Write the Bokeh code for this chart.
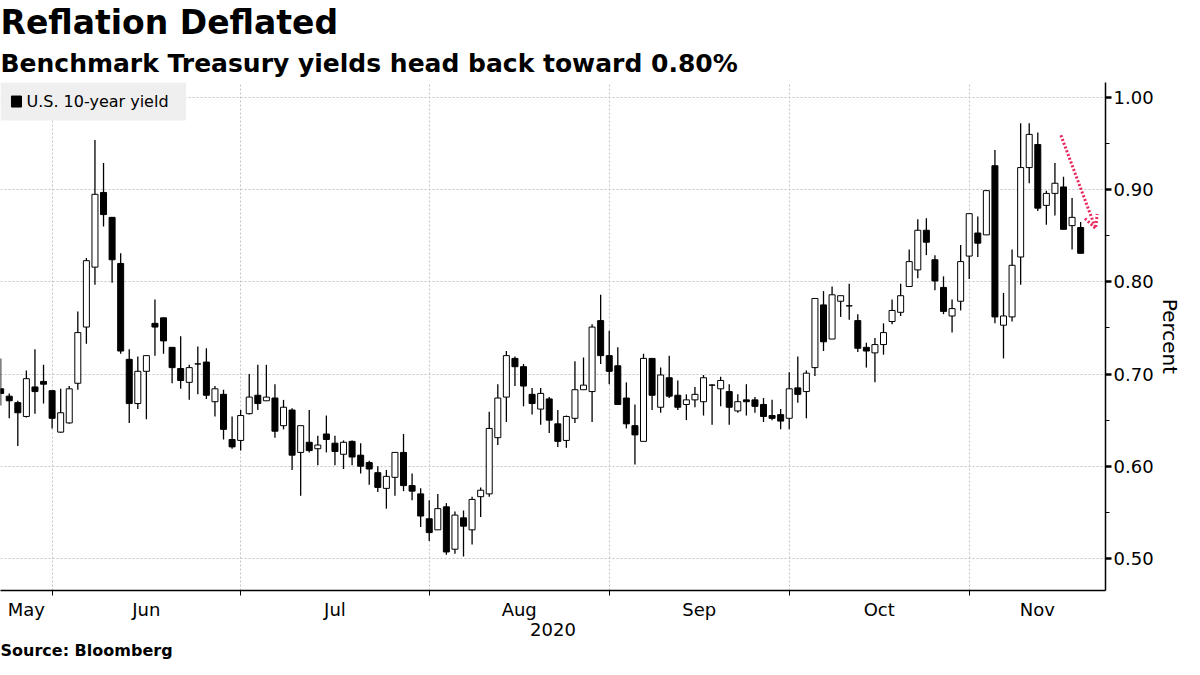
import pandas as pd
from bokeh.plotting import figure
from bokeh.models import (ColumnDataSource, Range1d, LinearAxis, FixedTicker, Grid, Title,
                          Label, BoxAnnotation, Arrow, OpenHead, PrintfTickFormatter)
from bokeh.embed import file_html
from bokeh.resources import INLINE

# ---------------- data ----------------
holidays = ["2020-05-25", "2020-07-03", "2020-09-07", "2020-10-12"]
dates = [d.strftime("%Y-%m-%d") for d in pd.bdate_range("2020-05-21", "2020-11-19")
         if d.strftime("%Y-%m-%d") not in holidays]

opens = [0.684, 0.676, 0.669, 0.654, 0.686, 0.692, 0.682, 0.637, 0.647, 0.690,
         0.751, 0.816, 0.897, 0.870, 0.820, 0.716, 0.668, 0.703, 0.755, 0.761,
         0.729, 0.706, 0.691, 0.711, 0.713, 0.670, 0.678, 0.629, 0.628, 0.657,
         0.677, 0.671, 0.674, 0.644, 0.661, 0.615, 0.626, 0.619, 0.635, 0.625,
         0.613, 0.627, 0.612, 0.604, 0.593, 0.576, 0.588, 0.615, 0.579, 0.570,
         0.543, 0.531, 0.556, 0.510, 0.544, 0.531, 0.567, 0.570, 0.631, 0.675,
         0.717, 0.708, 0.678, 0.662, 0.673, 0.646, 0.628, 0.652, 0.683, 0.681,
         0.758, 0.720, 0.709, 0.674, 0.644, 0.627, 0.717, 0.664, 0.696, 0.677,
         0.667, 0.672, 0.670, 0.688, 0.684, 0.681, 0.660, 0.672, 0.672, 0.667,
         0.655, 0.656, 0.652, 0.685, 0.681, 0.707, 0.775, 0.738, 0.779, 0.774,
         0.758, 0.729, 0.723, 0.732, 0.757, 0.767, 0.795, 0.813, 0.856, 0.824,
         0.794, 0.763, 0.779, 0.828, 0.853, 0.851, 0.926, 0.753, 0.762, 0.827,
         0.924, 0.949, 0.883, 0.896, 0.903, 0.861, 0.859]
highs = [0.717, 0.679, 0.671, 0.704, 0.727, 0.710, 0.682, 0.684, 0.687, 0.768,
         0.826, 0.954, 0.929, 0.870, 0.831, 0.727, 0.719, 0.720, 0.781, 0.761,
         0.729, 0.741, 0.710, 0.730, 0.728, 0.687, 0.683, 0.654, 0.661, 0.700,
         0.710, 0.710, 0.689, 0.672, 0.663, 0.644, 0.661, 0.633, 0.655, 0.633,
         0.628, 0.628, 0.625, 0.606, 0.600, 0.596, 0.615, 0.635, 0.592, 0.576,
         0.563, 0.570, 0.560, 0.551, 0.552, 0.567, 0.577, 0.659, 0.689, 0.725,
         0.719, 0.711, 0.685, 0.685, 0.675, 0.661, 0.655, 0.714, 0.718, 0.754,
         0.786, 0.747, 0.729, 0.691, 0.667, 0.722, 0.717, 0.707, 0.720, 0.693,
         0.678, 0.686, 0.699, 0.689, 0.697, 0.689, 0.678, 0.689, 0.675, 0.674,
         0.672, 0.662, 0.702, 0.719, 0.704, 0.782, 0.790, 0.795, 0.785, 0.798,
         0.765, 0.734, 0.739, 0.755, 0.781, 0.798, 0.835, 0.868, 0.869, 0.829,
         0.806, 0.781, 0.840, 0.874, 0.871, 0.899, 0.943, 0.788, 0.835, 0.972,
         0.972, 0.962, 0.899, 0.929, 0.914, 0.891, 0.865]
lows = [0.666, 0.652, 0.622, 0.653, 0.657, 0.668, 0.641, 0.636, 0.646, 0.683,
        0.733, 0.797, 0.860, 0.799, 0.722, 0.647, 0.662, 0.651, 0.720, 0.722,
        0.690, 0.684, 0.672, 0.678, 0.673, 0.654, 0.629, 0.619, 0.617, 0.656,
        0.661, 0.671, 0.631, 0.640, 0.596, 0.568, 0.615, 0.601, 0.615, 0.601,
        0.597, 0.601, 0.592, 0.580, 0.572, 0.554, 0.568, 0.573, 0.563, 0.534,
        0.519, 0.531, 0.504, 0.505, 0.502, 0.515, 0.545, 0.567, 0.623, 0.648,
        0.687, 0.665, 0.656, 0.645, 0.636, 0.621, 0.620, 0.647, 0.683, 0.648,
        0.711, 0.689, 0.667, 0.641, 0.602, 0.627, 0.661, 0.658, 0.674, 0.661,
        0.650, 0.664, 0.655, 0.645, 0.665, 0.645, 0.658, 0.655, 0.658, 0.648,
        0.650, 0.640, 0.640, 0.669, 0.652, 0.698, 0.725, 0.738, 0.762, 0.759,
        0.724, 0.707, 0.691, 0.721, 0.754, 0.763, 0.795, 0.804, 0.829, 0.791,
        0.765, 0.745, 0.769, 0.803, 0.827, 0.851, 0.755, 0.717, 0.757, 0.797,
        0.907, 0.877, 0.862, 0.872, 0.857, 0.835, 0.831]
closes = [0.679, 0.671, 0.658, 0.695, 0.681, 0.689, 0.652, 0.658, 0.684, 0.745,
          0.823, 0.895, 0.873, 0.824, 0.725, 0.668, 0.703, 0.720, 0.751, 0.736,
          0.707, 0.693, 0.707, 0.711, 0.677, 0.684, 0.640, 0.621, 0.655, 0.675,
          0.668, 0.675, 0.638, 0.664, 0.612, 0.644, 0.617, 0.623, 0.629, 0.616,
          0.626, 0.610, 0.600, 0.597, 0.577, 0.589, 0.615, 0.579, 0.573, 0.546,
          0.528, 0.554, 0.507, 0.547, 0.535, 0.564, 0.574, 0.641, 0.674, 0.720,
          0.708, 0.687, 0.668, 0.679, 0.650, 0.627, 0.654, 0.683, 0.688, 0.751,
          0.720, 0.703, 0.667, 0.646, 0.634, 0.717, 0.677, 0.699, 0.676, 0.664,
          0.672, 0.678, 0.696, 0.688, 0.693, 0.664, 0.670, 0.670, 0.665, 0.654,
          0.652, 0.649, 0.684, 0.678, 0.701, 0.782, 0.735, 0.786, 0.785, 0.774,
          0.728, 0.725, 0.732, 0.745, 0.769, 0.785, 0.822, 0.856, 0.843, 0.801,
          0.768, 0.771, 0.822, 0.874, 0.842, 0.899, 0.762, 0.763, 0.818, 0.924,
          0.960, 0.880, 0.896, 0.907, 0.857, 0.870, 0.831]

month_names = ["May", "Jun", "Jul", "Aug", "Sep", "Oct", "Nov"]
y_ticks = [0.50, 0.60, 0.70, 0.80, 0.90, 1.00]
y_minor = [0.55, 0.65, 0.75, 0.85, 0.95]
arrow_from = (123.7, 0.959)
arrow_to = (127.75, 0.858)

title_text = "Reflation Deflated"
subtitle_text = "Benchmark Treasury yields head back toward 0.80%"
legend_text = "U.S. 10-year yield"
source_text = "Source: Bloomberg"

# ---------------- derived ----------------
n = len(dates)
xs = list(range(n))
up = [c >= o for o, c in zip(opens, closes)]
src = ColumnDataSource(dict(
    x=xs, date=dates, open=opens, high=highs, low=lows, close=closes,
    top=[max(o, c) for o, c in zip(opens, closes)],
    bottom=[min(o, c) for o, c in zip(opens, closes)],
    fill=["white" if u else "black" for u in up],
))

X0, X1 = -0.02, 128.9
Y0, Y1 = 0.4652, 1.0163
PX_X = 8.59     # approx. pixels per trading day
PX_Y = 920.0    # approx. pixels per 1.00 of yield
month_starts = [i for i in range(1, n) if dates[i][5:7] != dates[i - 1][5:7]]
bounds = [X0] + month_starts + [X1]
month_centers = [(bounds[k] + bounds[k + 1]) / 2 for k in range(len(bounds) - 1)]

FONT = "DejaVu Sans"

p = figure(width=1184, height=659, x_range=Range1d(X0, X1), y_range=Range1d(Y0, Y1),
           output_backend="svg", toolbar_location=None,
           x_axis_location=None, y_axis_location=None,
           min_border_left=0, min_border_right=0, min_border_top=0, min_border_bottom=0,
           outline_line_color=None, background_fill_color="white", border_fill_color="white")
# drop the default grids created by figure()
p.xgrid.visible = False
p.ygrid.visible = False

# grids
p.add_layout(Grid(dimension=0, ticker=FixedTicker(ticks=month_starts),
                  grid_line_color="#c4c4c4", grid_line_dash="2 2", grid_line_width=1))
p.add_layout(Grid(dimension=1, ticker=FixedTicker(ticks=y_ticks),
                  grid_line_color="#c4c4c4", grid_line_dash="2 2", grid_line_width=1))

# candles
p.segment(x0="x", y0="low", x1="x", y1="high", source=src, line_color="black", line_width=1.3)
bodies = p.vbar(x="x", width=0.7, top="top", bottom="bottom", source=src,
                fill_color="fill", line_color="black", line_width=1)

# right axis
yaxis = LinearAxis(ticker=FixedTicker(ticks=y_ticks, minor_ticks=y_minor),
                   formatter=PrintfTickFormatter(format="%.2f"))
yaxis.axis_line_color = "black"
yaxis.axis_line_width = 1.5
yaxis.major_tick_in = 0
yaxis.major_tick_out = 6
yaxis.major_tick_line_width = 2.5
yaxis.minor_tick_in = 0
yaxis.minor_tick_out = 4
yaxis.minor_tick_line_width = 1
yaxis.major_label_text_font = FONT
yaxis.major_label_text_font_size = "18px"
yaxis.major_label_text_color = "black"
yaxis.major_label_standoff = 2
yaxis.axis_label = "Percent"
yaxis.axis_label_text_font = FONT
yaxis.axis_label_text_font_size = "20px"
yaxis.axis_label_text_font_style = "normal"
yaxis.axis_label_text_color = "black"
yaxis.axis_label_standoff = 1
p.add_layout(yaxis, "right")

# bottom axis: labels centred in months, small ticks at month starts
xaxis = LinearAxis(ticker=FixedTicker(ticks=month_centers, minor_ticks=month_starts),
                   major_label_overrides={c: m for c, m in zip(month_centers, month_names)})
xaxis.axis_line_color = "black"
xaxis.axis_line_width = 1.5
xaxis.major_tick_line_color = None
xaxis.major_tick_in = 0
xaxis.major_tick_out = 0
xaxis.minor_tick_in = 0
xaxis.minor_tick_out = 5
xaxis.minor_tick_line_color = "black"
xaxis.minor_tick_line_width = 1
xaxis.major_label_text_font = FONT
xaxis.major_label_text_font_size = "18px"
xaxis.major_label_text_color = "black"
xaxis.major_label_standoff = 3
xaxis.axis_label = "2020"
xaxis.axis_label_text_font = FONT
xaxis.axis_label_text_font_size = "18px"
xaxis.axis_label_text_font_style = "normal"
xaxis.axis_label_text_color = "black"
xaxis.axis_label_standoff = 0
p.add_layout(xaxis, "below")

# legend box (grey panel, black square, label) in the top-left corner of the frame
p.add_layout(BoxAnnotation(left=X0, right=X0 + 186 / PX_X, top=Y1, bottom=Y1 - 38 / PX_Y,
                           fill_color="#efefef", fill_alpha=1, line_color=None, level="underlay"))
leg_y = Y1 - 19 / PX_Y
p.rect(x=[X0 + 16 / PX_X], y=[leg_y], width=10, height=11, width_units="screen",
       height_units="screen", fill_color="black", line_color="black")
p.add_layout(Label(x=X0 + 26 / PX_X, y=leg_y, text=legend_text, text_font=FONT,
                   text_font_size="16px", text_color="black", text_baseline="middle",
                   text_align="left"))

# red dotted arrow
red = "#e8295f"
p.add_layout(Arrow(x_start=arrow_from[0], y_start=arrow_from[1], x_end=arrow_to[0], y_end=arrow_to[1],
                   line_color=red, line_width=3, line_dash="2 2",
                   end=OpenHead(size=13, line_color=red, line_width=3, line_dash="2 2")))

# titles
p.add_layout(Title(text=subtitle_text, text_font=FONT, text_font_size="25px", text_font_style="bold",
                   text_color="black", align="left", standoff=10), "above")
p.add_layout(Title(text=title_text, text_font=FONT, text_font_size="33px", text_font_style="bold",
                   text_color="black", align="left", standoff=0), "above")
p.add_layout(Title(text=source_text, text_font=FONT, text_font_size="16px", text_font_style="bold",
                   text_color="black", align="left", standoff=0), "below")

open("out.html", "w").write(file_html(p, INLINE))
